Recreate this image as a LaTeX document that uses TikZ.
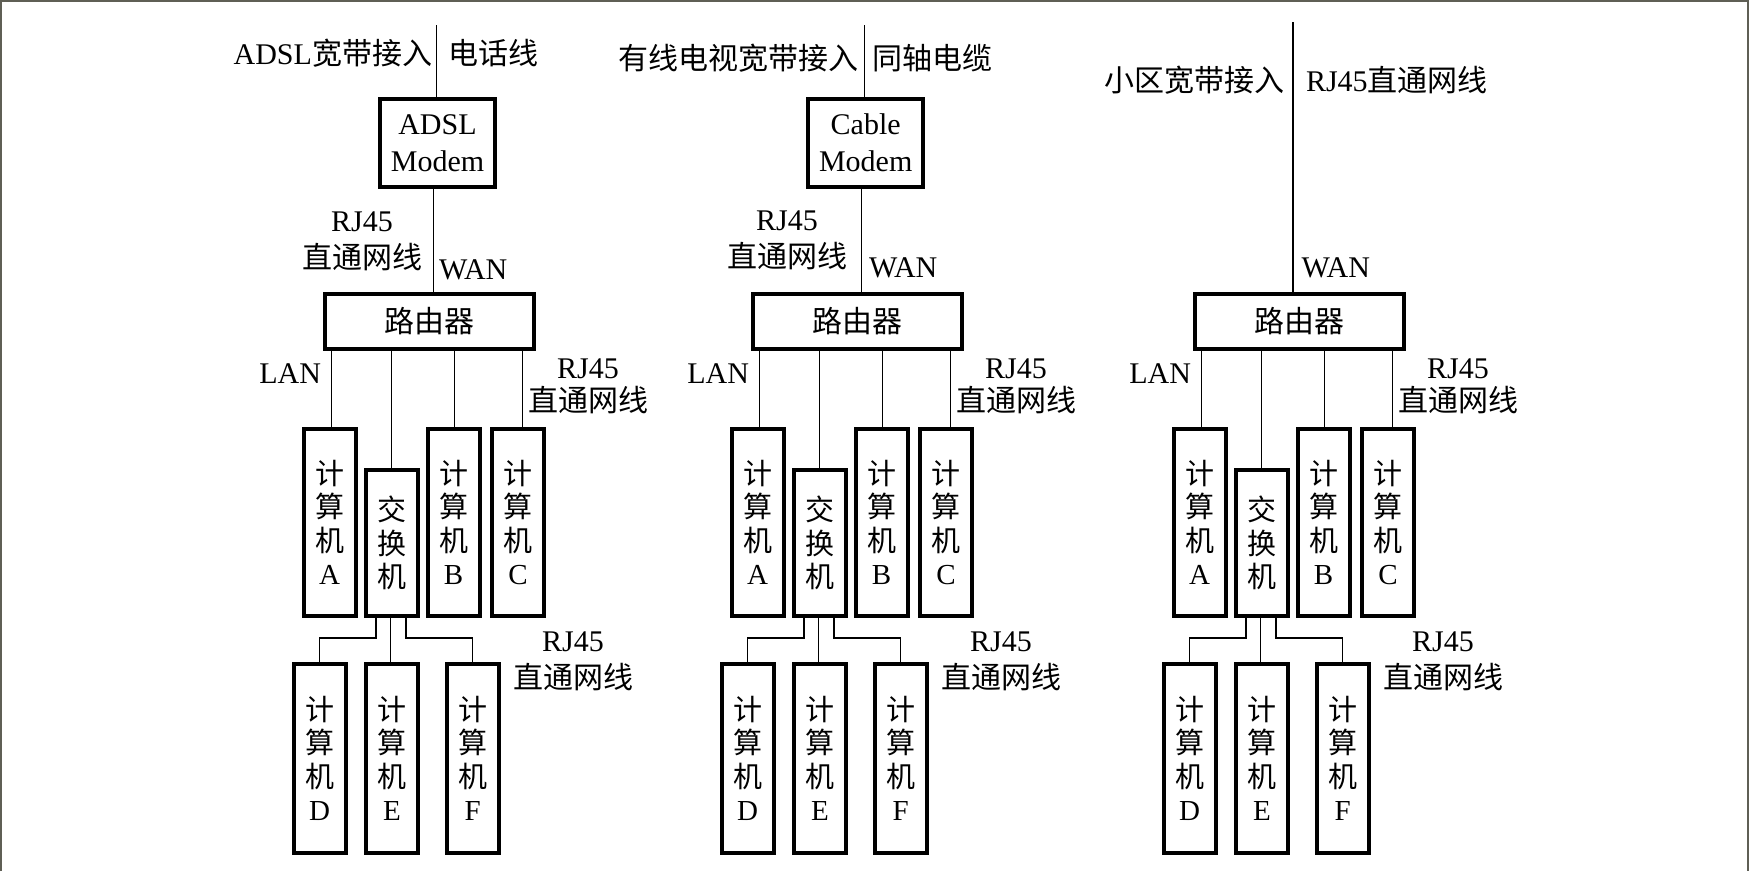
\documentclass[tikz,border=0pt]{standalone}
\usepackage{fontspec}
\setmainfont{Liberation Serif}
\newfontfamily\cjk{Noto Sans CJK SC}
\newcommand\zh[1]{{\cjk #1}}
\definecolor{framegray}{RGB}{95,95,85}
\begin{document}
\begin{tikzpicture}[x=1pt,y=-1pt,
  every node/.style={font=\fontsize{30}{34}\selectfont},
  box/.style={draw, line width=4pt, inner sep=0pt, outer sep=0pt, align=center},
  pcbox/.style={box, minimum width=52, font=\fontsize{29}{33.5}\selectfont},
  wire/.style={line width=1.3pt},
  lbl/.style={inner sep=0pt, outer sep=0pt, align=center},
  twoline/.style={lbl, font=\fontsize{30}{37}\selectfont},
  twolineb/.style={lbl, font=\fontsize{30}{33}\selectfont}]
\useasboundingbox (0,0) rectangle (1749,871);
\fill[white] (0,0) rectangle (1749,871);
\draw[framegray, line width=2pt] (1,871) -- (1,1) -- (1748,1) -- (1748,871);

% lower parts of the three columns
\foreach \o/\n in {0/1,428/2,870/3}{
  \begin{scope}[xshift=\o pt]
    \node[box, minimum width=209, minimum height=55] (r\n) at (429.2,321.3) {\zh{路由器}};
    \node[pcbox, minimum height=187] (A\n) at (329.5,522.5) {\zh{计}\\\zh{算}\\\zh{机}\\A};
    \node[pcbox, minimum height=146] (S\n) at (391.7,542.9) {\zh{交}\\\zh{换}\\\zh{机}};
    \node[pcbox, minimum height=187] (B\n) at (453.5,522.5) {\zh{计}\\\zh{算}\\\zh{机}\\B};
    \node[pcbox, minimum height=187] (C\n) at (518,522.5) {\zh{计}\\\zh{算}\\\zh{机}\\C};
    \node[pcbox, minimum height=189] (D\n) at (319.5,758.5) {\zh{计}\\\zh{算}\\\zh{机}\\D};
    \node[pcbox, minimum height=189] (E\n) at (392,758.5) {\zh{计}\\\zh{算}\\\zh{机}\\E};
    \node[pcbox, minimum height=189] (F\n) at (472.7,758.5) {\zh{计}\\\zh{算}\\\zh{机}\\F};
    \draw[wire] ([xshift=2]A\n.north) -- ([xshift=2]A\n.north |- r\n.south);
    \draw[wire] (S\n.north) -- (S\n.north |- r\n.south);
    \draw[wire] ([xshift=1]B\n.north) -- ([xshift=1]B\n.north |- r\n.south);
    \draw[wire] ([xshift=4.4]C\n.north) -- ([xshift=4.4]C\n.north |- r\n.south);
    \draw[wire] ([xshift=-15.7]S\n.south) -- ++(0,22) -| (D\n.north);
    \draw[wire] ([xshift=-1]S\n.south) -- ([xshift=-1]S\n.south |- E\n.north);
    \draw[wire] ([xshift=14.3]S\n.south) -- ++(0,22) -| (F\n.north);
    \node[lbl, anchor=east] (lan\n) at (321,374) {LAN};
    \node[twolineb] (rjr\n) at (588,386.5) {RJ45\\\zh{直通网线}};
    \node[twoline] (rjb\n) at (573,661) {RJ45\\\zh{直通网线}};
  \end{scope}
}

% column 1: ADSL
\node[box, minimum width=115, minimum height=88, font=\fontsize{30}{37}\selectfont] (m1) at (437.5,143) {ADSL\\Modem};
\coordinate (t1) at (436.3,25);
\draw[wire] (t1) -- (t1 |- m1.north);
\draw[wire] ([xshift=-4]m1.south) -- ([xshift=-4]m1.south |- r1.north);
\node[lbl, anchor=east] (in1) at (432,53) {ADSL\zh{宽带接入}};
\node[lbl, anchor=west] (ln1) at (448,53) {\zh{电话线}};
\node[twoline] (rjt1) at (362,241) {RJ45\\\zh{直通网线}};
\node[lbl, anchor=west] (wan1) at (439,270) {WAN};

% column 2: Cable
\node[box, minimum width=115, minimum height=88, font=\fontsize{30}{37}\selectfont] (m2) at (865.7,143) {Cable\\Modem};
\coordinate (t2) at (864.4,25);
\draw[wire] (t2) -- (t2 |- m2.north);
\draw[wire] ([xshift=-4]m2.south) -- ([xshift=-4]m2.south |- r2.north);
\node[lbl, anchor=east] (in2) at (858,58) {\zh{有线电视宽带接入}};
\node[lbl, anchor=west] (ln2) at (872,58) {\zh{同轴电缆}};
\node[twoline] (rjt2) at (787,240) {RJ45\\\zh{直通网线}};
\node[lbl, anchor=west] (wan2) at (869,268) {WAN};

% column 3: community broadband
\coordinate (t3) at (1293,22);
\draw[wire] (t3) -- (t3 |- r3.north);
\node[lbl, anchor=east] (in3) at (1284,80) {\zh{小区宽带接入}};
\node[lbl, anchor=west] (ln3) at (1306,80) {RJ45\zh{直通网线}};
\node[lbl, anchor=west] (wan3) at (1301.6,268) {WAN};
\end{tikzpicture}
\end{document}
